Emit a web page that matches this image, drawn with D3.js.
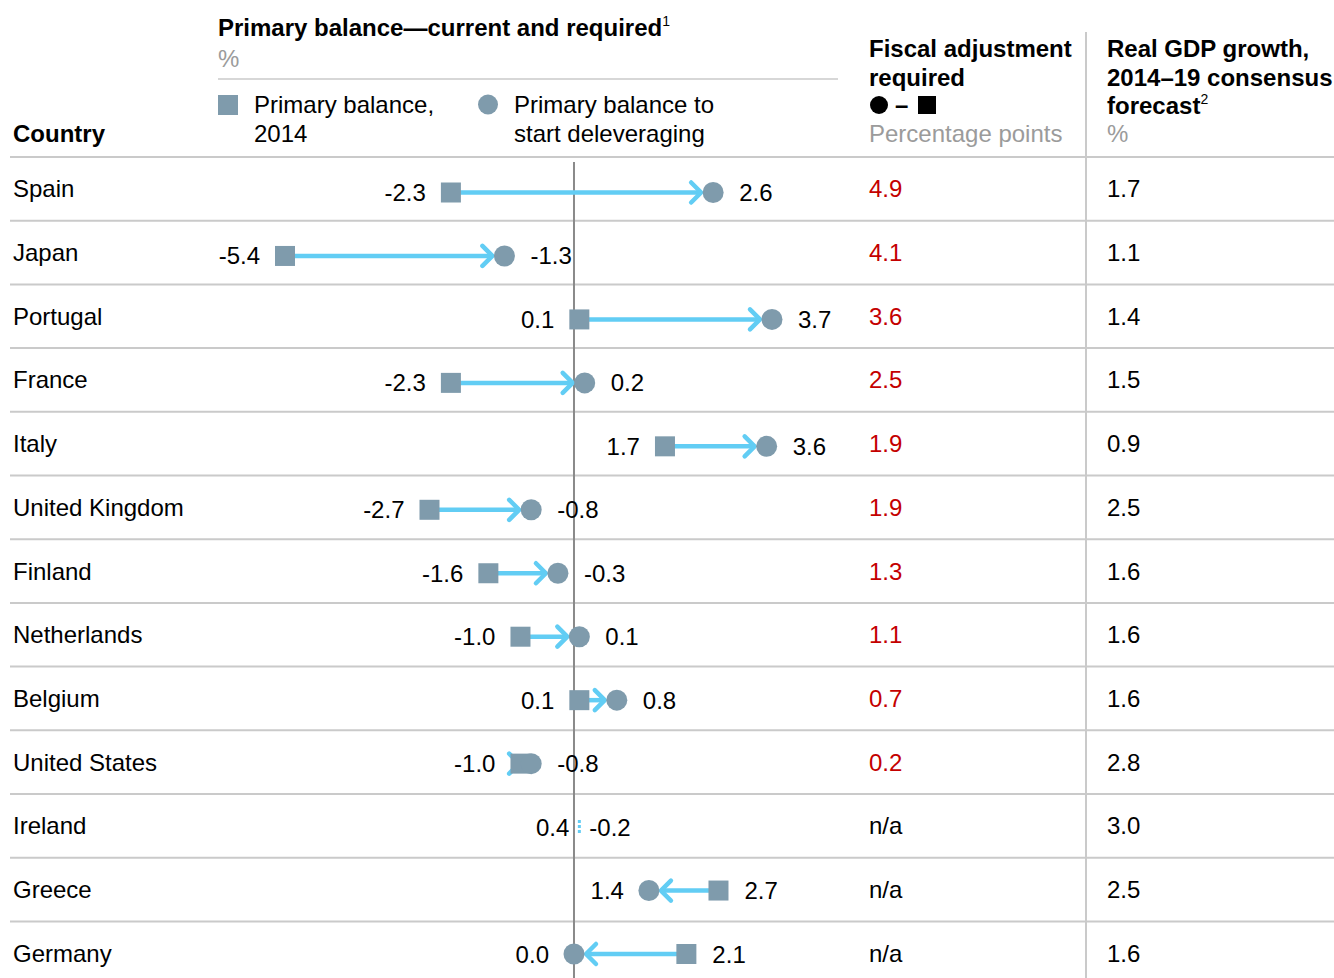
<!doctype html>
<html>

<head>
    <meta charset="utf-8">
    <title>Primary balance chart</title>
    <style>
        body { margin: 0; background: #fff; }
        text { font-family: "Liberation Sans", Arial, sans-serif; }
    </style>
</head>

<body>
    <script src="https://d3js.org/d3.v7.min.js"></script>
    <script>
        // data
        var countries = ["Spain", "Japan", "Portugal", "France", "Italy", "United Kingdom", "Finland",
            "Netherlands", "Belgium", "United States", "Ireland", "Greece", "Germany"];
        var balance2014 = [-2.3, -5.4, 0.1, -2.3, 1.7, -2.7, -1.6, -1.0, 0.1, -1.0, 0.4, 2.7, 2.1];
        var balanceRequired = [2.6, -1.3, 3.7, 0.2, 3.6, -0.8, -0.3, 0.1, 0.8, -0.8, -0.2, 1.4, 0.0];
        var fiscalAdjustment = [4.9, 4.1, 3.6, 2.5, 1.9, 1.9, 1.3, 1.1, 0.7, 0.2, null, null, null];
        var gdpGrowth = [1.7, 1.1, 1.4, 1.5, 0.9, 2.5, 1.6, 1.6, 1.6, 2.8, 3.0, 2.5, 1.6];
        // rows whose markers are not drawn in the original (only a stub)
        var collapsed = ["Ireland"];

        var w = 1334;
        var h = 978;

        var markerColor = "#7f9bac";
        var arrowColor = "#62cdf4";
        var redColor = "#c40000";
        var greyText = "#9b9b9b";
        var ruleColor = "#cacaca";

        var rows = countries.map(function (c, i) {
            return {
                country: c, b: balance2014[i], r: balanceRequired[i],
                fiscal: fiscalAdjustment[i], gdp: gdpGrowth[i],
                collapsed: collapsed.indexOf(c) >= 0
            };
        });

        var svg = d3.select("body")
            .append("svg")
            .attr("width", w)
            .attr("height", h);

        // scales
        var y = d3.scaleBand()
            .domain(countries)
            .range([157, 157 + 13 * 63.7]);

        var yMark = d3.scalePoint()
            .domain(countries)
            .range([192.5, 954]);

        var x = d3.scaleLinear()
            .domain([-5.4, 3.7])
            .range([285, 772]);

        function fmt(v) { return v.toFixed(1); }

        // header
        var head = svg.append("g");

        head.append("text")
            .attr("x", 218).attr("y", 36)
            .style("font-size", "24px").style("font-weight", "bold")
            .text("Primary balance\u2014current and required")
            .append("tspan")
            .attr("dy", -10).style("font-size", "14px").style("font-weight", "normal")
            .text("1");

        head.append("text")
            .attr("x", 218).attr("y", 67)
            .style("font-size", "24px").style("fill", greyText)
            .text("%");

        head.append("line")
            .attr("x1", 218).attr("x2", 838).attr("y1", 79).attr("y2", 79)
            .style("stroke", ruleColor).style("stroke-width", 1.5);

        // legend
        head.append("rect")
            .attr("x", 218).attr("y", 95).attr("width", 20).attr("height", 20)
            .style("fill", markerColor);
        head.append("circle")
            .attr("cx", 488).attr("cy", 104.5).attr("r", 10)
            .style("fill", markerColor);

        var legendText = [
            { x: 254, lines: ["Primary balance,", "2014"] },
            { x: 514, lines: ["Primary balance to", "start deleveraging"] }
        ];
        legendText.forEach(function (d) {
            d.lines.forEach(function (l, i) {
                head.append("text")
                    .attr("x", d.x).attr("y", 113 + i * 29)
                    .style("font-size", "24px")
                    .text(l);
            });
        });

        head.append("text")
            .attr("x", 13).attr("y", 142)
            .style("font-size", "24px").style("font-weight", "bold")
            .text("Country");

        // fiscal adjustment header
        var fh = head.append("g");
        fh.append("text").attr("x", 869).attr("y", 57)
            .style("font-size", "24px").style("font-weight", "bold").text("Fiscal adjustment");
        fh.append("text").attr("x", 869).attr("y", 85.5)
            .style("font-size", "24px").style("font-weight", "bold").text("required");
        fh.append("circle").attr("cx", 879).attr("cy", 105).attr("r", 9).style("fill", "#000");
        fh.append("text").attr("x", 895).attr("y", 113)
            .style("font-size", "24px").style("font-weight", "bold").text("\u2013");
        fh.append("rect").attr("x", 918).attr("y", 96).attr("width", 18).attr("height", 18).style("fill", "#000");
        fh.append("text").attr("x", 869).attr("y", 142)
            .style("font-size", "24px").style("fill", greyText).text("Percentage points");

        // GDP header
        var gh = head.append("g");
        gh.append("text").attr("x", 1107).attr("y", 57)
            .style("font-size", "24px").style("font-weight", "bold").text("Real GDP growth,");
        gh.append("text").attr("x", 1107).attr("y", 85.5)
            .style("font-size", "24px").style("font-weight", "bold").text("2014\u201319 consensus");
        gh.append("text").attr("x", 1107).attr("y", 114)
            .style("font-size", "24px").style("font-weight", "bold").text("forecast")
            .append("tspan")
            .attr("dy", -10).style("font-size", "14px").style("font-weight", "normal")
            .text("2");
        gh.append("text").attr("x", 1107).attr("y", 142)
            .style("font-size", "24px").style("fill", greyText).text("%");

        // rules
        svg.append("g").selectAll("line")
            .data(countries)
            .enter()
            .append("line")
            .attr("x1", 10).attr("x2", w)
            .attr("y1", function (d) { return y(d); })
            .attr("y2", function (d) { return y(d); })
            .style("stroke", ruleColor)
            .style("stroke-width", 2);

        svg.append("line")
            .attr("x1", 1086).attr("x2", 1086).attr("y1", 32).attr("y2", h)
            .style("stroke", ruleColor).style("stroke-width", 2);

        // zero line
        svg.append("line")
            .attr("x1", x(0)).attr("x2", x(0)).attr("y1", 162).attr("y2", h)
            .style("stroke", "#8a8a8a").style("stroke-width", 2);

        // country names
        svg.append("g").selectAll("text")
            .data(rows)
            .enter()
            .append("text")
            .attr("x", 13)
            .attr("y", function (d) { return y(d.country) + y.bandwidth() / 2 + 8.5; })
            .style("font-size", "24px")
            .text(function (d) { return d.country; });

        // fiscal adjustment column
        svg.append("g").selectAll("text")
            .data(rows)
            .enter()
            .append("text")
            .attr("x", 869)
            .attr("y", function (d) { return y(d.country) + y.bandwidth() / 2 + 8.5; })
            .style("font-size", "24px")
            .style("fill", function (d) { return d.fiscal == null ? "#000" : redColor; })
            .text(function (d) { return d.fiscal == null ? "n/a" : fmt(d.fiscal); });

        // GDP column
        svg.append("g").selectAll("text")
            .data(rows)
            .enter()
            .append("text")
            .attr("x", 1107)
            .attr("y", function (d) { return y(d.country) + y.bandwidth() / 2 + 8.5; })
            .style("font-size", "24px")
            .text(function (d) { return fmt(d.gdp); });

        // arrows
        var shown = rows.filter(function (d) { return !d.collapsed; });
        var arrows = svg.append("g");

        arrows.selectAll("line")
            .data(shown)
            .enter()
            .append("line")
            .attr("x1", function (d) { return x(d.b); })
            .attr("x2", function (d) { return x(d.r) - Math.sign(d.r - d.b) * 12; })
            .attr("y1", function (d) { return yMark(d.country); })
            .attr("y2", function (d) { return yMark(d.country); })
            .style("stroke", arrowColor)
            .style("stroke-width", 4.5);

        arrows.selectAll("path")
            .data(shown)
            .enter()
            .append("path")
            .attr("d", function (d) {
                var dir = Math.sign(d.r - d.b);
                var ax = x(d.r) - dir * 12;
                var ay = yMark(d.country);
                return "M" + (ax - dir * 10) + "," + (ay - 10) + "L" + ax + "," + ay + "L" + (ax - dir * 10) + "," + (ay + 10);
            })
            .style("fill", "none")
            .style("stroke", arrowColor)
            .style("stroke-width", 4.5)
            .style("stroke-linecap", "round")
            .style("stroke-linejoin", "round");

        // collapsed stubs
        arrows.selectAll("line.stub")
            .data(rows.filter(function (d) { return d.collapsed; }))
            .enter()
            .append("line")
            .attr("class", "stub")
            .attr("x1", function (d) { return x((d.b + d.r) / 2); })
            .attr("x2", function (d) { return x((d.b + d.r) / 2); })
            .attr("y1", function (d) { return yMark(d.country) - 7; })
            .attr("y2", function (d) { return yMark(d.country) + 7; })
            .style("stroke", arrowColor)
            .style("stroke-width", 3)
            .style("stroke-dasharray", "3,2");

        // markers
        arrows.selectAll("rect")
            .data(shown)
            .enter()
            .append("rect")
            .attr("x", function (d) { return x(d.b) - 10; })
            .attr("y", function (d) { return yMark(d.country) - 10; })
            .attr("width", 20).attr("height", 20)
            .style("fill", markerColor);

        arrows.selectAll("circle")
            .data(shown)
            .enter()
            .append("circle")
            .attr("cx", function (d) { return x(d.r); })
            .attr("cy", function (d) { return yMark(d.country); })
            .attr("r", 10.5)
            .style("fill", markerColor);

        // value labels
        var labels = [];
        rows.forEach(function (d) {
            if (d.collapsed) {
                var m = x((d.b + d.r) / 2);
                labels.push({ c: d.country, x: m - 10, anchor: "end", t: fmt(d.b) });
                labels.push({ c: d.country, x: m + 10, anchor: "start", t: fmt(d.r) });
            } else {
                var lo = Math.min(d.b, d.r), hi = Math.max(d.b, d.r);
                labels.push({ c: d.country, x: x(lo) - 25, anchor: "end", t: fmt(lo) });
                labels.push({ c: d.country, x: x(hi) + 26, anchor: "start", t: fmt(hi) });
            }
        });

        svg.append("g").selectAll("text")
            .data(labels)
            .enter()
            .append("text")
            .attr("x", function (d) { return d.x; })
            .attr("y", function (d) { return yMark(d.c) + 8.5; })
            .attr("text-anchor", function (d) { return d.anchor; })
            .style("font-size", "24px")
            .text(function (d) { return d.t; });
    </script>
</body>

</html>
